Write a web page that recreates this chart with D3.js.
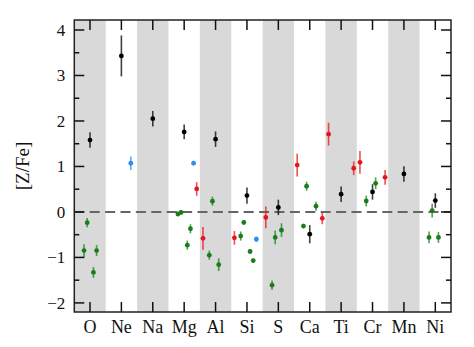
<!DOCTYPE html>
<html><head><meta charset="utf-8">
<script src="https://cdn.jsdelivr.net/npm/d3@7"></script>
<style>body{margin:0;background:#fff}svg{display:block}</style>
</head><body>
<svg id="chart" width="474" height="347" style="font-family:'Liberation Serif'"></svg>
<script>
const categories = ["O","Ne","Na","Mg","Al","Si","S","Ca","Ti","Cr","Mn","Ni"];
const yMajorTicks = [-2,-1,0,1,2,3,4];
const yMinorTicks = [-1.5,-0.5,0.5,1.5,2.5,3.5];
// [element, offset within category, value, error]
const blackSeries = [
 ["O",0,1.58,0.17],["Ne",0,3.43,0.45],["Na",0,2.05,0.17],["Mg",0,1.76,0.16],
 ["Al",0,1.60,0.17],["Si",0,0.36,0.18],["S",0,0.10,0.17],["Ca",0,-0.49,0.2],
 ["Ti",0,0.39,0.17],["Cr",0,0.44,0.17],["Mn",0,0.835,0.17],["Ni",0,0.25,0.16]
];
const blueSeries = [
 ["Ne",0.3,1.07,0.15],["Mg",0.3,1.07,0.03],["Si",0.3,-0.60,0.06]
];
const redSeries = [
 ["Mg",0.4,0.505,0.15],["Al",-0.4,-0.58,0.25],["Si",-0.4,-0.57,0.15],["S",-0.4,-0.12,0.24],
 ["Ca",-0.4,1.03,0.25],["Ca",0.4,-0.14,0.13],["Ti",-0.4,1.71,0.25],["Ti",0.4,0.96,0.15],
 ["Cr",-0.4,1.09,0.25],["Cr",0.4,0.76,0.16]
];
const greenSeries = [
 ["O",-0.09,-0.235,0.1],["O",-0.19,-0.85,0.14],["O",0.21,-0.85,0.12],["O",0.11,-1.33,0.12],
 ["Mg",-0.2,-0.045,0.05],["Mg",-0.1,-0.01,0.05],["Mg",0.2,-0.37,0.1],["Mg",0.1,-0.73,0.1],
 ["Al",-0.1,0.235,0.1],["Al",-0.2,-0.95,0.1],["Al",0.1,-1.16,0.14],
 ["Si",-0.2,-0.53,0.1],["Si",-0.1,-0.23,0.05],["Si",0.1,-0.87,0.05],["Si",0.2,-1.07,0.05],
 ["S",-0.2,-1.61,0.1],["S",-0.1,-0.56,0.15],["S",0.1,-0.40,0.15],
 ["Ca",-0.1,0.565,0.1],["Ca",-0.2,-0.31,0.05],["Ca",0.2,0.125,0.1],
 ["Cr",-0.2,0.24,0.12],["Cr",0.1,0.63,0.13],
 ["Ni",-0.1,0.03,0.15],["Ni",-0.2,-0.56,0.13],["Ni",0.1,-0.56,0.12]
];

const L=74.3,R=451,T=20,B=312;
const FONT="Liberation Serif";
const svg=d3.select("#chart");
const x=d3.scaleLinear().domain([-0.5,categories.length-0.5]).range([L,R]);
const y=d3.scaleLinear().domain([-2.2,4.22]).range([B,T]);
const idx=e=>categories.indexOf(e);

// bands
svg.append("g").selectAll("rect").data(categories.filter((c,i)=>i%2===0)).join("rect")
 .attr("x",c=>x(idx(c)-0.5)).attr("width",c=>x(idx(c)+0.5)-x(idx(c)-0.5))
 .attr("y",T).attr("height",B-T).attr("fill","#d9d9d9");

// zero line
svg.append("line").attr("x1",L).attr("x2",R).attr("y1",y(0)).attr("y2",y(0))
 .attr("stroke","#666").attr("stroke-width",2).attr("stroke-dasharray","10,5.4");

// points
function drawSeries(data,color){
  const g=svg.append("g");
  g.selectAll("line").data(data).join("line")
   .attr("x1",d=>x(idx(d[0])+d[1])).attr("x2",d=>x(idx(d[0])+d[1]))
   .attr("y1",d=>y(d[2]-d[3])).attr("y2",d=>y(d[2]+d[3]))
   .attr("stroke",color).attr("stroke-width",1.6).attr("stroke-opacity",0.75);
  g.selectAll("circle").data(data).join("circle")
   .attr("cx",d=>x(idx(d[0])+d[1])).attr("cy",d=>y(d[2])).attr("r",2.4).attr("fill",color);
}
drawSeries(greenSeries,"#1a7d1a");
drawSeries(redSeries,"#e8141c");
drawSeries(blueSeries,"#2a8ff0");
drawSeries(blackSeries,"#000");

// frame
svg.append("rect").attr("x",L).attr("y",T).attr("width",R-L).attr("height",B-T)
 .attr("fill","none").attr("stroke","#222").attr("stroke-width",1.5);

const tk=svg.append("g").attr("stroke","#111").attr("stroke-width",1.5);
yMajorTicks.forEach(v=>{
  tk.append("line").attr("x1",L).attr("x2",L+10).attr("y1",y(v)).attr("y2",y(v));
  tk.append("line").attr("x1",R).attr("x2",R-10).attr("y1",y(v)).attr("y2",y(v));
});
yMinorTicks.forEach(v=>{
  tk.append("line").attr("x1",L).attr("x2",L+5).attr("y1",y(v)).attr("y2",y(v));
  tk.append("line").attr("x1",R).attr("x2",R-5).attr("y1",y(v)).attr("y2",y(v));
});
categories.forEach((c,i)=>{
  tk.append("line").attr("x1",x(i)).attr("x2",x(i)).attr("y1",T).attr("y2",T+10);
  tk.append("line").attr("x1",x(i)).attr("x2",x(i)).attr("y1",B).attr("y2",B-10);
});

// labels
svg.append("g").selectAll("text").data(yMajorTicks).join("text")
 .attr("x",L-9).attr("y",v=>y(v)).attr("dy","0.35em").attr("text-anchor","end")
 .attr("font-family",FONT).attr("font-size",17).attr("fill","#111")
 .text(v=>v<0?"\u2212"+Math.abs(v):v);
svg.append("g").selectAll("text").data(categories).join("text")
 .attr("x",(c,i)=>x(i)).attr("y",333).attr("text-anchor","middle")
 .attr("font-family",FONT).attr("font-size",18).attr("fill","#111").text(c=>c);
svg.append("text").attr("transform",`translate(29,${(T+B)/2}) rotate(-90)`)
 .attr("text-anchor","middle").attr("font-family",FONT).attr("font-size",19).attr("fill","#111")
 .text("[Z/Fe]");
</script>
</body></html>
